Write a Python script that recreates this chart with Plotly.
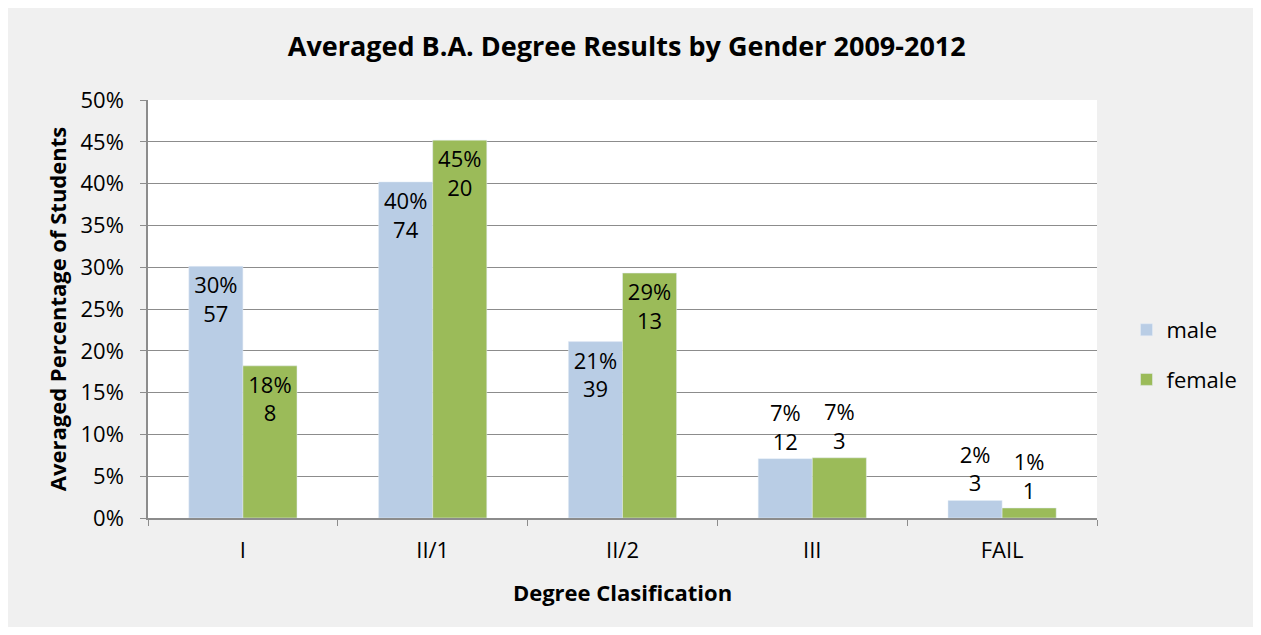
import plotly.graph_objects as go

categories = ["I", "II/1", "II/2", "III", "FAIL"]
male_pct = [30.1, 40.2, 21.1, 7.1, 2.1]
female_pct = [18.2, 45.2, 29.3, 7.2, 1.2]
male_count = [57, 74, 39, 12, 3]
female_count = [8, 20, 13, 3, 1]
y_ticks = [0, 5, 10, 15, 20, 25, 30, 35, 40, 45, 50]

FONT = "Open Sans"
MALE = "#b9cde5"
FEMALE = "#9bbb59"


def text_side(values):
    return ["inside" if v > 10 else "outside" for v in values]


fig = go.Figure()
for name, pct, cnt, color in [
    ("male", male_pct, male_count, MALE),
    ("female", female_pct, female_count, FEMALE),
]:
    fig.add_trace(go.Bar(
        x=categories, y=pct, name=name, marker_color=color,
        legendgroup=name,
        customdata=cnt,
        texttemplate="%{y:.0f}%<br>%{customdata}",
        textposition=text_side(pct),
        insidetextanchor="end",
        constraintext="none",
        textfont=dict(family=FONT, size=22, color="#000000"),
        cliponaxis=False,
    ))

# page body adds an 8px margin, so the figure is a bit smaller than the window
fig.update_layout(
    width=1245, height=619,
    paper_bgcolor="#f0f0f0", plot_bgcolor="#ffffff",
    font=dict(family=FONT, size=22, color="#000000"),
    margin=dict(l=140, r=155, t=92, b=109),
    barmode="group", bargap=0.43, bargroupgap=0,
    title=dict(text="<b>Averaged B.A. Degree Results by Gender 2009-2012</b>",
               x=0.497, xanchor="center", y=0.937, yanchor="middle",
               font=dict(family=FONT, size=27)),
    legend=dict(x=1.03, y=0.39, xanchor="left", yanchor="middle",
                bgcolor="rgba(0,0,0,0)", font=dict(size=22),
                tracegroupgap=18, itemwidth=30),
)
fig.update_xaxes(
    title=dict(text="<b>Degree Clasification</b>", font=dict(size=22), standoff=22),
    showline=True, linecolor="#8c8c8c", linewidth=1.5,
    ticks="outside", tickson="boundaries", ticklen=6, tickcolor="#8c8c8c",
    ticklabelstandoff=12,
    showgrid=False,
)
fig.update_yaxes(
    title=dict(text="<b>Averaged Percentage of Students</b>", font=dict(size=22), standoff=8),
    range=[0, 50], tickvals=y_ticks, ticktext=[f"{v}%" for v in y_ticks],
    showline=True, linecolor="#8c8c8c", linewidth=1.5,
    ticks="outside", ticklen=6, tickcolor="#8c8c8c",
    ticklabelstandoff=12,
    showgrid=True, gridcolor="#8c8c8c", gridwidth=1.2,
    zeroline=False,
)

fig.write_html("out.html")
